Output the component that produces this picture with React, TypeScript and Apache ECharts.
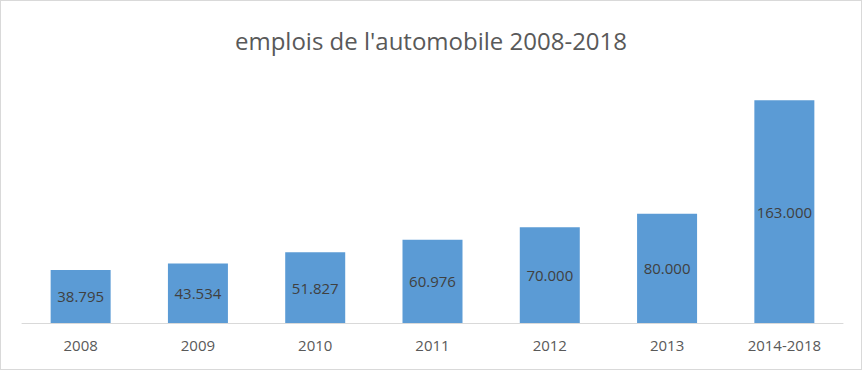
import React, { useEffect, useRef } from "react";
import * as echarts from "echarts";

const categories = ["2008", "2009", "2010", "2011", "2012", "2013", "2014-2018"];
const jobs = [38795, 43534, 51827, 60976, 70000, 80000, 163000];
const titleText = "emplois de l'automobile 2008-2018";

function fmt(v: number): string {
  return String(v).replace(/\B(?=(\d{3})+(?!\d))/g, ".");
}

export default function App() {
  const ref = useRef<HTMLDivElement>(null);
  useEffect(() => {
    document.body.style.margin = "0";
    if (!ref.current) return;
    const chart = echarts.init(ref.current, undefined, { renderer: "svg" });
    chart.setOption({
      animation: false,
      backgroundColor: "#ffffff",
      title: {
        text: titleText,
        left: "center",
        top: 22,
        textStyle: {
          fontFamily: "Open Sans",
          fontSize: 24,
          fontWeight: "normal",
          color: "#595959",
        },
      },
      grid: { left: 21, right: 18, top: 76, bottom: 46 },
      xAxis: {
        type: "category",
        data: categories,
        axisLine: { lineStyle: { color: "#d9d9d9", width: 1 } },
        axisTick: { show: false },
        axisLabel: {
          color: "#595959",
          fontFamily: "Open Sans",
          fontSize: 15,
          margin: 14,
        },
      },
      yAxis: {
        type: "value",
        min: 0,
        max: 180000,
        show: false,
        splitLine: { show: false },
      },
      series: [
        {
          type: "bar",
          data: jobs,
          barWidth: 60,
          itemStyle: { color: "#5b9bd5" },
          label: {
            show: true,
            position: "inside",
            color: "#404040",
            fontFamily: "Open Sans",
            fontSize: 15,
            formatter: (p: any) => fmt(p.value),
          },
        },
      ],
    });
    return () => chart.dispose();
  }, []);
  return (
    <div
      ref={ref}
      style={{
        width: 860,
        height: 368,
        border: "1px solid #d9d9d9",
      }}
    />
  );
}
